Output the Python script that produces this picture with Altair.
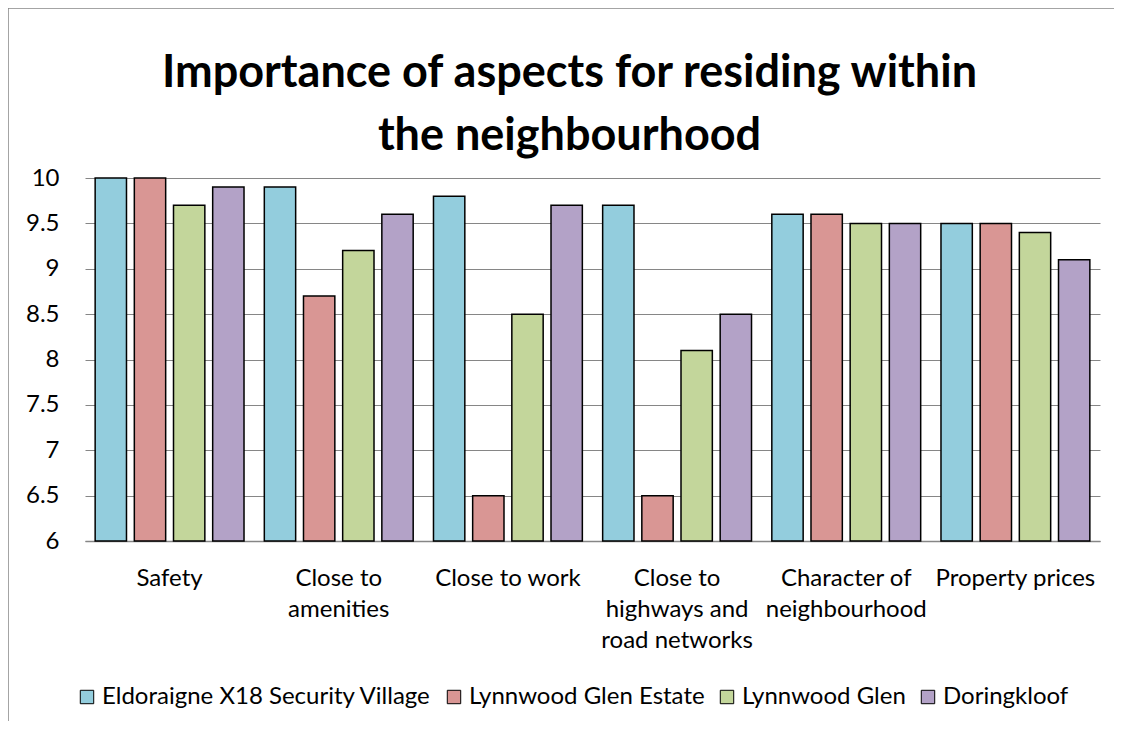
import altair as alt
import pandas as pd

categories = ["Safety", "Close to amenities", "Close to work",
              "Close to highways and road networks",
              "Character of neighbourhood", "Property prices"]
series = ["Eldoraigne X18 Security Village", "Lynnwood Glen Estate",
          "Lynnwood Glen", "Doringkloof"]
eldoraigne = [10, 9.9, 9.8, 9.7, 9.6, 9.5]
lynnwood_estate = [10, 8.7, 6.5, 6.5, 9.6, 9.5]
lynnwood_glen = [9.7, 9.2, 8.5, 8.1, 9.5, 9.4]
doringkloof = [9.9, 9.6, 9.7, 8.5, 9.5, 9.1]
colors = ["#93CDDD", "#D99694", "#C3D69B", "#B3A2C7"]
y_ticks = [6, 6.5, 7, 7.5, 8, 8.5, 9, 9.5, 10]
wrapped = {
    "Close to amenities": ["Close to", "amenities"],
    "Close to highways and road networks": ["Close to", "highways and", "road networks"],
    "Character of neighbourhood": ["Character of", "neighbourhood"],
}

rows = []
for s, vals in zip(series, [eldoraigne, lynnwood_estate, lynnwood_glen, doringkloof]):
    for c, v in zip(categories, vals):
        rows.append({"aspect": c, "area": s, "score": v})
df = pd.DataFrame(rows)

expr = ""
for k, parts in wrapped.items():
    arr = "[" + ",".join("'" + p + "'" for p in parts) + "]"
    expr += f"datum.label == '{k}' ? {arr} : "
expr += "datum.label"

FONT = "Lato"

bars = alt.Chart(df).mark_bar(stroke="black", strokeWidth=1.5).encode(
    x=alt.X("aspect:N", sort=categories,
            scale=alt.Scale(paddingInner=0.12, paddingOuter=0.06),
            axis=alt.Axis(title=None, labelAngle=0, labelExpr=expr,
                          labelFontSize=24, labelLineHeight=31, labelPadding=25,
                          ticks=False, domainColor="#868686", domainWidth=1.5,
                          labelColor="black", labelFont=FONT, labelLimit=300)),
    xOffset=alt.XOffset("area:N", sort=series,
                        scale=alt.Scale(paddingInner=0.2, paddingOuter=0)),
    y=alt.Y("score:Q", scale=alt.Scale(domain=[6, 10]),
            axis=alt.Axis(title=None, values=y_ticks, format="~g",
                          grid=True, gridColor="#868686", gridWidth=1,
                          domain=False, ticks=False, labelPadding=26,
                          labelFontSize=24, labelColor="black", labelFont=FONT)),
    y2=alt.datum(6),
    color=alt.Color("area:N", sort=series,
                    scale=alt.Scale(domain=series, range=colors),
                    legend=alt.Legend(title=None, orient="none", legendX=-10, legendY=507,
                                      direction="horizontal", symbolType="square",
                                      symbolSize=180, symbolStrokeColor="black",
                                      symbolStrokeWidth=1, labelFontSize=24,
                                      labelFont=FONT, labelColor="black",
                                      columnPadding=10, labelOffset=3, labelLimit=500)),
)

border = alt.Data(values=[{"k": 1}])
left_border = alt.Chart(border).mark_rule(color="#868686", strokeWidth=1.5).encode(
    x=alt.value(-77), y=alt.value(-170), y2=alt.value(543))
top_border = alt.Chart(border).mark_rule(color="#868686", strokeWidth=1.5).encode(
    x=alt.value(-77), x2=alt.value(1029), y=alt.value(-170))

chart = alt.layer(bars, left_border, top_border).properties(
    width=1015, height=363,
    autosize=alt.AutoSizeParams(type="none"),
    padding={"left": 77, "top": 170, "right": 14, "bottom": 180},
    title=alt.TitleParams(["Importance of aspects for residing within", "the neighbourhood"],
                          font=FONT, fontSize=45, fontWeight="bold", color="black",
                          anchor="middle", dx=-23, offset=-152, lineHeight=63),
).configure_view(stroke=None)

chart.save("out.html", embed_options={"renderer": "svg", "actions": False})
